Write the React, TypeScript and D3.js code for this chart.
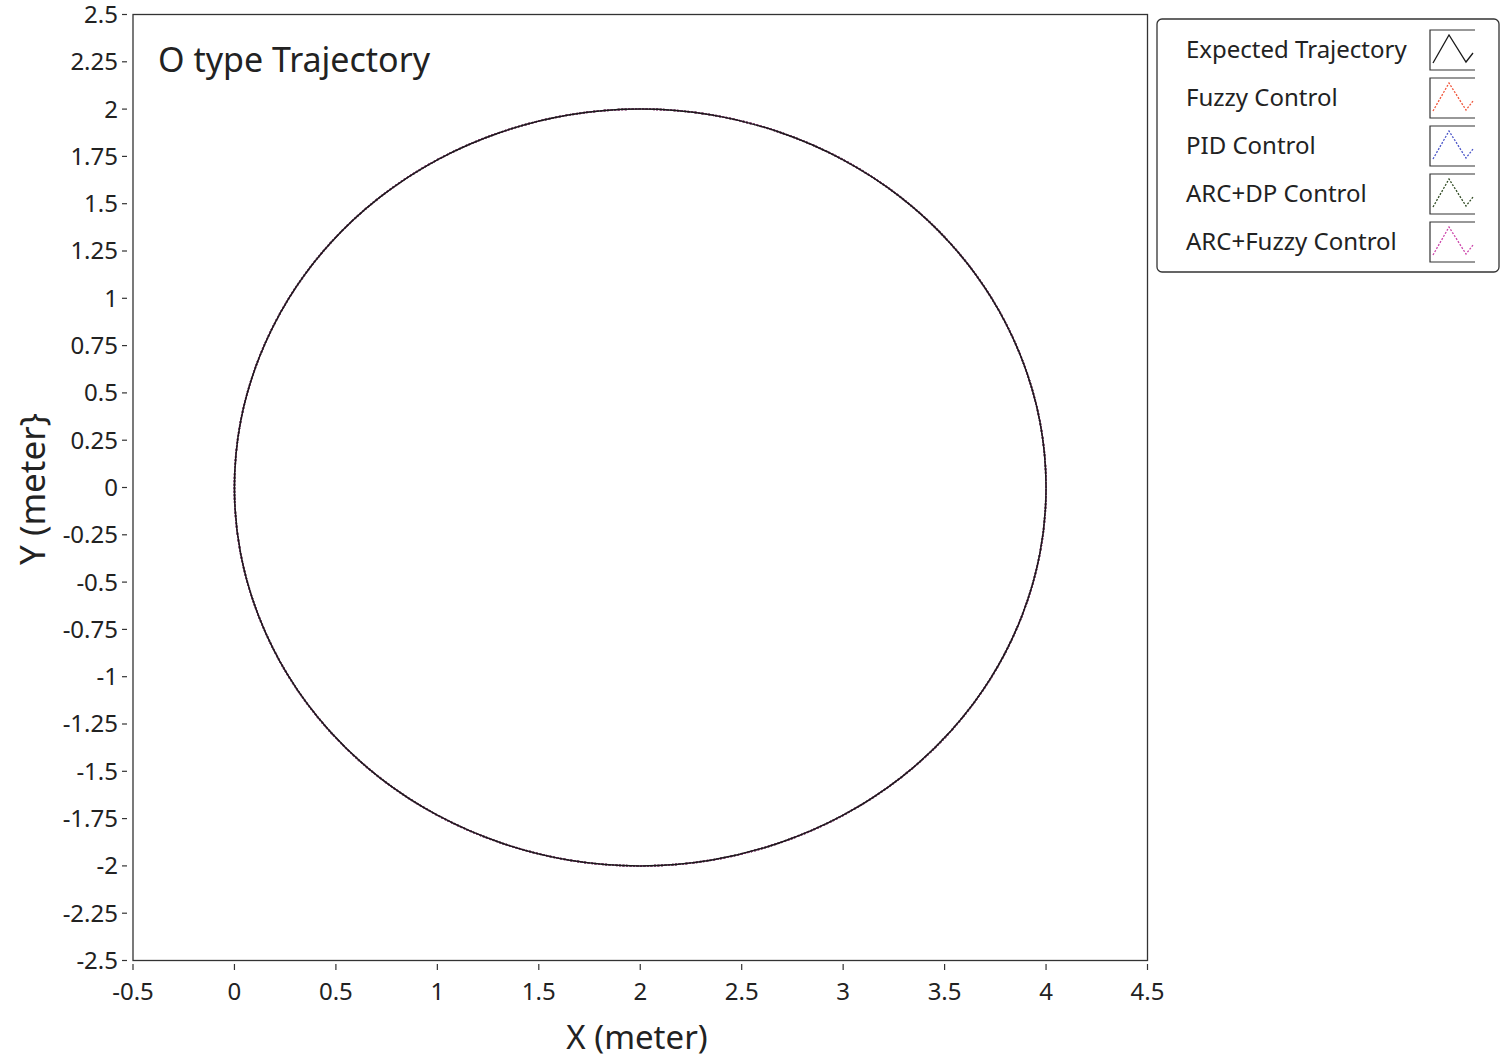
import React from "react";
import * as d3 from "d3";

// Expected O-type trajectory points (meters)
const pathX = [4.0, 3.97, 3.879, 3.732, 3.532, 3.286, 3.0, 2.684, 2.347, 2.0, 1.653, 1.316, 1.0, 0.714, 0.468, 0.268, 0.121, 0.03, 0.0, 0.03, 0.121, 0.268, 0.468, 0.714, 1.0, 1.316, 1.653, 2.0, 2.347, 2.684, 3.0, 3.286, 3.532, 3.732, 3.879, 3.97];
const pathY = [0.0, 0.347, 0.684, 1.0, 1.286, 1.532, 1.732, 1.879, 1.97, 2.0, 1.97, 1.879, 1.732, 1.532, 1.286, 1.0, 0.684, 0.347, 0.0, -0.347, -0.684, -1.0, -1.286, -1.532, -1.732, -1.879, -1.97, -2.0, -1.97, -1.879, -1.732, -1.532, -1.286, -1.0, -0.684, -0.347];

const seriesNames = ["Expected Trajectory", "Fuzzy Control", "PID Control", "ARC+DP Control", "ARC+Fuzzy Control"];
const seriesColors = ["#1a1a1a", "#f0553a", "#4a55c8", "#2f4a22", "#cc44aa"];
const seriesDash = [null, "2,1.5", "2,1.5", "2,1.5", "2,1.5"];

const xTicks = [-0.5, 0, 0.5, 1, 1.5, 2, 2.5, 3, 3.5, 4, 4.5];
const yTicks = [2.5, 2.25, 2, 1.75, 1.5, 1.25, 1, 0.75, 0.5, 0.25, 0, -0.25, -0.5, -0.75, -1, -1.25, -1.5, -1.75, -2, -2.25, -2.5];

const FONT = "'Noto Sans', 'Open Sans', sans-serif";
const TXT = "#222";

export default function App() {
  const left = 133, right = 1147.5, top = 14.5, bottom = 960.5;
  const x = d3.scaleLinear().domain([-0.5, 4.5]).range([left, right]);
  const y = d3.scaleLinear().domain([-2.5, 2.5]).range([bottom, top]);
  const pts: [number, number][] = pathX.map((v, i) => [v, pathY[i]]);
  const line = d3.line<[number, number]>().x(d => x(d[0])).y(d => y(d[1])).curve(d3.curveCatmullRomClosed.alpha(0.5));
  const d = line(pts) || "";

  const fmt = (v: number) => String(v);
  const lgX = 1157, lgY = 19;
  const rowY = (i: number) => 50 + i * 48;
  const icon = (cy: number) => {
    const ix = 1430;
    return `M${ix + 3},${cy + 13} L${ix + 19},${cy - 15} L${ix + 36},${cy + 12} L${ix + 43},${cy + 3}`;
  };

  return (
    <svg width={1501} height={1060} style={{ position: "absolute", left: 0, top: 0, background: "#fff" }} fontFamily={FONT}>
      <rect x={0} y={0} width={1501} height={1060} fill="#fff" />
      {/* plot frame */}
      <rect x={left} y={top} width={right - left} height={bottom - top} fill="none" stroke="#333" strokeWidth={1.3} />
      {/* trajectories: controllers first, expected on top */}
      {[1, 2, 3, 4, 0].map(i => (
        <path key={i} d={d} fill="none" stroke={seriesColors[i]} strokeWidth={i === 0 ? 1.5 : 1.7}
          strokeDasharray={seriesDash[i] || undefined} />
      ))}
      {/* y ticks */}
      {yTicks.map(t => (
        <g key={"y" + t}>
          <line x1={122} x2={127} y1={y(t)} y2={y(t)} stroke="#333" strokeWidth={1.2} />
          <text x={118} y={y(t)} dy="0.35em" textAnchor="end" fontSize={24} fill={TXT}>{fmt(t)}</text>
        </g>
      ))}
      {/* x ticks */}
      {xTicks.map(t => (
        <g key={"x" + t}>
          <line x1={x(t)} x2={x(t)} y1={964} y2={970} stroke="#333" strokeWidth={1.2} />
          <text x={x(t)} y={1000} textAnchor="middle" fontSize={24} fill={TXT}>{fmt(t)}</text>
        </g>
      ))}
      {/* title and axis labels */}
      <text x={158} y={72} fontSize={34} fill={TXT}>O type Trajectory</text>
      <text x={637} y={1049} textAnchor="middle" fontSize={33} fill={TXT}>X (meter)</text>
      <text transform={`translate(45,489) rotate(-90)`} textAnchor="middle" fontSize={35} fill={TXT}>Y (meter{"}"}</text>
      {/* legend */}
      <rect x={lgX} y={lgY} width={342} height={253} rx={5} fill="#fff" stroke="#333" strokeWidth={1.3} />
      {seriesNames.map((n, i) => {
        const cy = rowY(i);
        return (
          <g key={n}>
            <text x={1186} y={cy} dy="0.35em" fontSize={24} fill={TXT}>{n}</text>
            <path d={`M1475,${cy - 20} L1430,${cy - 20} L1430,${cy + 20} L1475,${cy + 20}`} fill="none" stroke="#333" strokeWidth={1.2} />
            <path d={icon(cy)} fill="none" stroke={seriesColors[i]} strokeWidth={1.3} strokeDasharray={seriesDash[i] || undefined} />
          </g>
        );
      })}
    </svg>
  );
}
